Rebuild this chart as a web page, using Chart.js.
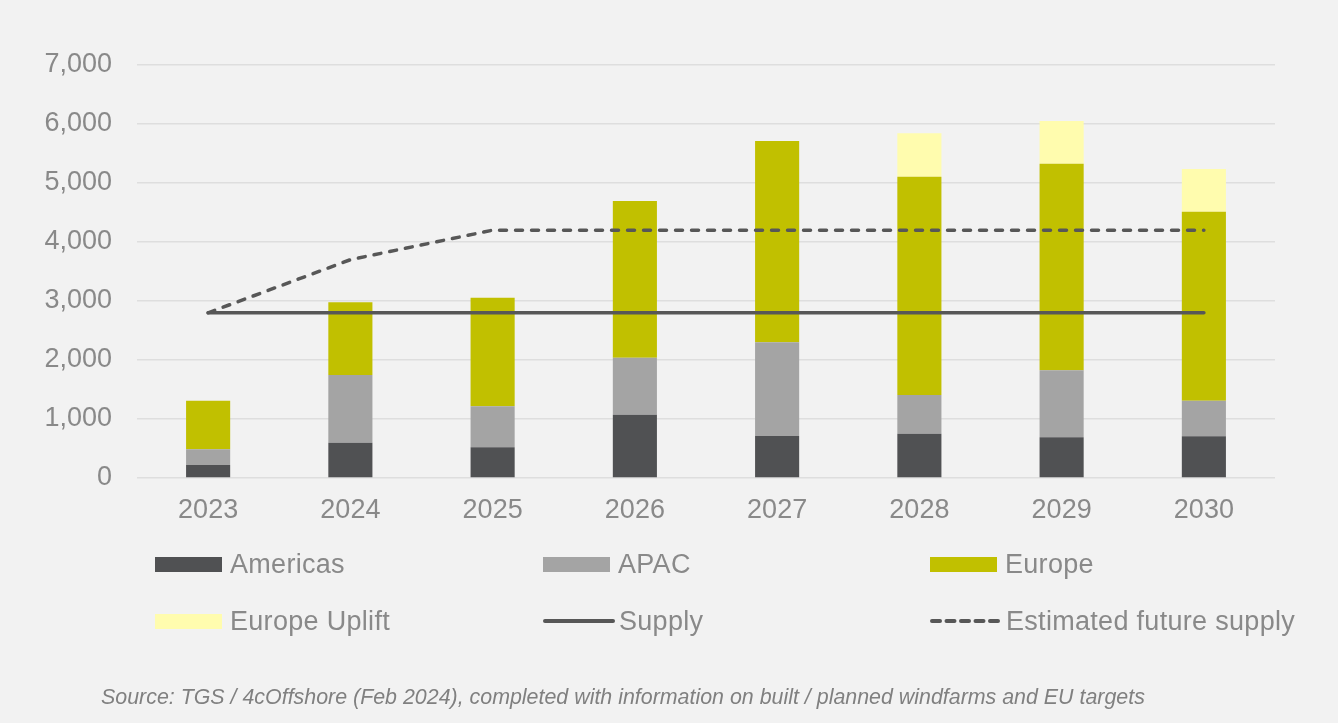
<!DOCTYPE html>
<html>
<head>
<meta charset="utf-8">
<script src="https://cdn.jsdelivr.net/npm/chart.js@4.4.1/dist/chart.umd.min.js"></script>
<style>
  html, body { margin: 0; padding: 0; background: #f2f2f2; }
  #wrap { position: relative; width: 1338px; height: 723px; background: #f2f2f2; overflow: hidden; }
  #c { position: absolute; left: 0; top: 0; }
  .leg { position: absolute; display: flex; align-items: center; font-family: "Liberation Sans", Arial, sans-serif; font-size: 27px; letter-spacing: 0.3px; color: #898989; white-space: nowrap; }
  .sw { width: 67px; height: 15px; margin-right: 8px; flex: none; }
  .ln { width: 72px; height: 8px; margin-right: 4px; flex: none; display: block; }
  #src { position: absolute; left: 101px; top: 685px; font-family: "Liberation Sans", Arial, sans-serif; font-style: italic; font-size: 21.4px; color: #808080; white-space: nowrap; }
</style>
</head>
<body>
<div id="wrap">
  <canvas id="c" width="1338" height="723"></canvas>
  <div id="legend"></div>
  <div id="src">Source: TGS / 4cOffshore (Feb 2024), completed with information on built / planned windfarms and EU targets</div>
</div>
<script>
const years = ['2023','2024','2025','2026','2027','2028','2029','2030'];
const americas = [220, 598, 520, 1073, 712, 751, 689, 706];
const apac = [266, 1148, 695, 966, 1588, 656, 1136, 605];
const europe = [824, 1232, 1841, 2656, 3412, 3700, 3502, 3203];
const europeUplift = [0, 0, 0, 0, 0, 735, 724, 723];
const supply = [2800, 2800, 2800, 2800, 2800, 2800, 2800, 2800];
const estimatedSupply = [2800, 3700, 4200, 4200, 4200, 4200, 4200, 4200];
const yTicks = [0, 1000, 2000, 3000, 4000, 5000, 6000, 7000];

const FONT = '"Liberation Sans", Arial, sans-serif';
const TXT = '#898989';

const barCommon = { stack: 'regions', order: 2, barPercentage: 0.31, categoryPercentage: 1, borderWidth: 0 };
const chart = new Chart(document.getElementById('c'), {
  data: {
    labels: years,
    datasets: [
      Object.assign({ type: 'bar', label: 'Americas', data: americas, backgroundColor: '#505153' }, barCommon),
      Object.assign({ type: 'bar', label: 'APAC', data: apac, backgroundColor: '#a4a4a4' }, barCommon),
      Object.assign({ type: 'bar', label: 'Europe', data: europe, backgroundColor: '#c1c000' }, barCommon),
      Object.assign({ type: 'bar', label: 'Europe Uplift', data: europeUplift, backgroundColor: '#fffcae' }, barCommon),
      { type: 'line', label: 'Supply', data: supply, stack: 'supply', order: 0, borderColor: '#575757', borderWidth: 3.5, pointRadius: 0, borderCapStyle: 'round', fill: false, tension: 0 },
      { type: 'line', label: 'Estimated future supply', data: estimatedSupply, stack: 'est', order: 1, borderColor: '#575757', borderWidth: 3.5, borderDash: [7, 9], borderCapStyle: 'round', pointRadius: 0, fill: false, tension: 0 }
    ]
  },
  options: {
    responsive: false,
    animation: false,
    devicePixelRatio: 1,
    layout: { padding: { left: 0, right: 63, top: 65, bottom: 195 } },
    plugins: { legend: { display: false }, tooltip: { enabled: false } },
    scales: {
      x: {
        stacked: true,
        grid: { display: false, drawTicks: false },
        border: { display: false },
        ticks: { color: TXT, font: { family: FONT, size: 27 }, padding: 16, maxRotation: 0 },
        afterFit: s => { s.height = 50; }
      },
      y: {
        stacked: true,
        min: 0, max: 7000,
        afterBuildTicks: s => { s.ticks = yTicks.map(v => ({ value: v })); },
        grid: { color: '#dedede', lineWidth: 1.5, drawTicks: false },
        border: { display: false },
        ticks: { color: TXT, font: { family: FONT, size: 27 }, padding: 25,
                 callback: v => v.toLocaleString('en-US') },
        afterFit: s => { s.width = 137; }
      }
    }
  }
});

// HTML legend built from the chart's datasets (3 columns x 2 rows)
const colX = [155, 543, 930];
const rowY = [564, 621];
const legendEl = document.getElementById('legend');
const SVGNS = 'http://www.w3.org/2000/svg';
chart.data.datasets.forEach((ds, i) => {
  const item = document.createElement('div');
  item.className = 'leg';
  const col = i % 3, row = Math.floor(i / 3);
  item.style.left = colX[col] + 'px';
  item.style.top = (rowY[row] - 16) + 'px';
  item.style.height = '32px';
  let sw;
  if (ds.type === 'bar') {
    sw = document.createElement('div');
    sw.className = 'sw';
    sw.style.background = ds.backgroundColor;
  } else {
    sw = document.createElementNS(SVGNS, 'svg');
    sw.setAttribute('class', 'ln');
    sw.setAttribute('width', '72');
    sw.setAttribute('height', '8');
    const l = document.createElementNS(SVGNS, 'line');
    l.setAttribute('x1', '2'); l.setAttribute('x2', '70');
    l.setAttribute('y1', '4'); l.setAttribute('y2', '4');
    l.setAttribute('stroke', ds.borderColor);
    l.setAttribute('stroke-width', '4');
    l.setAttribute('stroke-linecap', 'round');
    if (ds.borderDash) l.setAttribute('stroke-dasharray', '8 6.5');
    sw.appendChild(l);
  }
  const t = document.createElement('span');
  t.textContent = ds.label;
  item.appendChild(sw);
  item.appendChild(t);
  legendEl.appendChild(item);
});
</script>
</body>
</html>
